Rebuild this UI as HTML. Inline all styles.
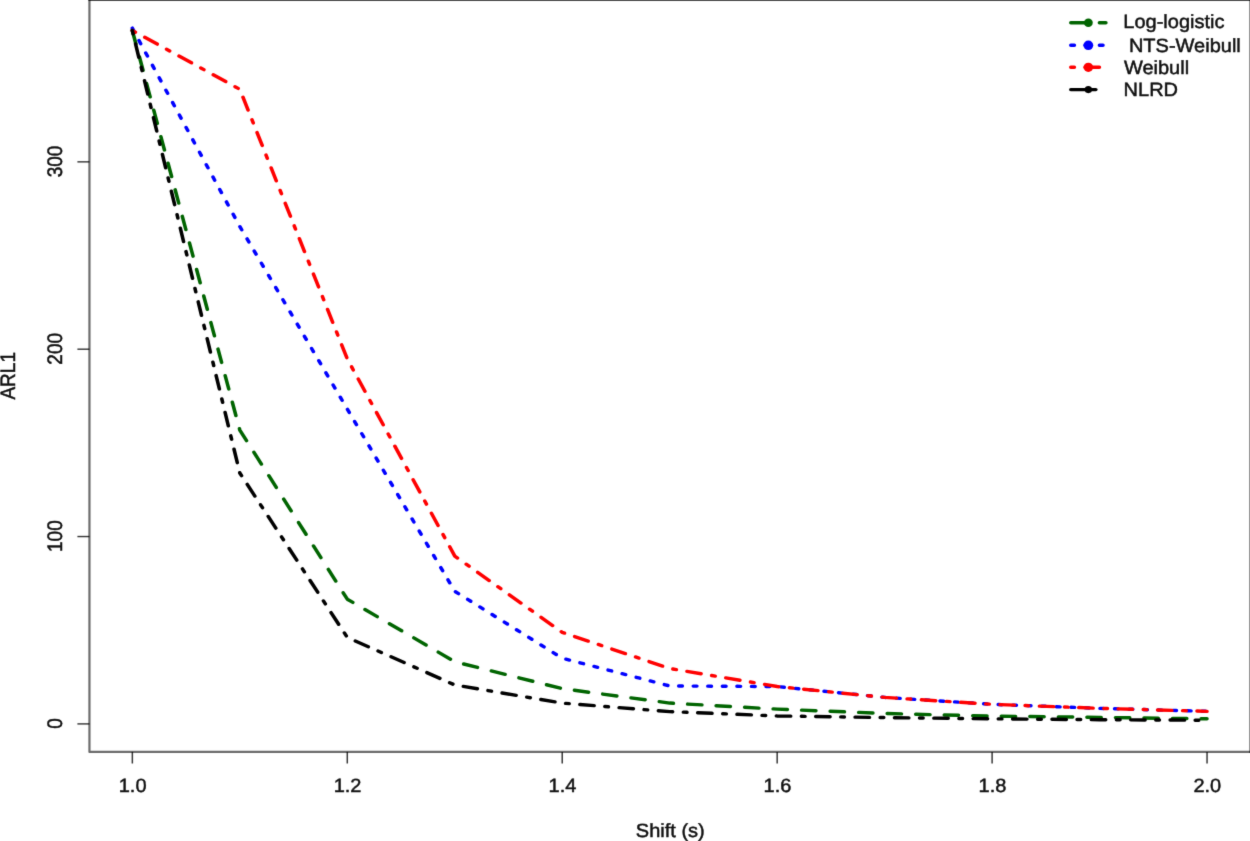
<!DOCTYPE html>
<html lang="en">
<head>
<meta charset="utf-8">
<title>ARL1 vs Shift</title>
<style>
html,body{margin:0;padding:0;background:#fff;}
body{width:1250px;height:841px;overflow:hidden;}
svg{display:block;}
text{font-family:"Liberation Sans",sans-serif;font-size:20px;fill:#111;stroke:#111;stroke-width:0.5px;text-rendering:geometricPrecision;}
</style>
</head>
<body>
<svg width="1250" height="841" viewBox="0 0 1250 841">
<defs><filter id="soft" x="-8" y="-8" width="1266" height="857" filterUnits="userSpaceOnUse" color-interpolation-filters="sRGB"><feConvolveMatrix order="3" kernelMatrix="0.01134 0.08382 0.01134 0.08382 0.61935 0.08382 0.01134 0.08382 0.01134" divisor="1" edgeMode="duplicate" preserveAlpha="true"/></filter></defs>
<g filter="url(#soft)">
<rect x="-8" y="-8" width="1266" height="857" fill="#ffffff"/>
<g transform="scale(1,0.961)">
<g fill="none" stroke-width="3.55" stroke-linecap="round" stroke-linejoin="round">
<polyline points="132.3,31.7 239.8,447.5 347.3,623.5 454.8,688.6 562.2,716.6 669.7,731.6 777.2,737.9 884.6,742.4 992.1,745.2 1099.6,746.5 1207.0,748.0" stroke="#006400" stroke-dasharray="14.27 14.27"/>
<polyline points="132.3,29.3 239.8,235.7 347.3,425.7 454.8,615.3 562.2,684.9 669.7,713.8 777.2,714.4 884.6,725.7 992.1,732.9 1099.6,737.1 1207.0,740.2" stroke="#0000ff" stroke-dasharray="3.64 10.92"/>
<polyline points="132.3,31.7 239.8,92.9 347.3,373.5 454.8,578.7 562.2,658.0 669.7,695.6 777.2,714.4 884.6,725.7 992.1,732.9 1099.6,737.1 1207.0,740.2" stroke="#ff0000" stroke-dasharray="3.58 10.75 14.33 10.75"/>
<polyline points="132.3,31.7 239.8,492.2 347.3,663.3 454.8,712.8 562.2,731.6 669.7,740.5 777.2,745.0 884.6,746.7 992.1,748.0 1099.6,748.9 1207.0,749.5" stroke="#000000" stroke-dasharray="3.58 10.74 14.32 10.74"/>
</g>
<path d="M89.45,-2.08 L89.45,782.41 L1252.00,782.41" fill="none" stroke="#000" stroke-opacity="0.58" stroke-width="2.2" stroke-linejoin="round"/>
<g stroke="#000" stroke-opacity="0.78" stroke-width="1.5" stroke-linecap="butt">
<line x1="132.35" y1="782.41" x2="132.35" y2="794.48"/>
<line x1="347.29" y1="782.41" x2="347.29" y2="794.48"/>
<line x1="562.23" y1="782.41" x2="562.23" y2="794.48"/>
<line x1="777.17" y1="782.41" x2="777.17" y2="794.48"/>
<line x1="992.11" y1="782.41" x2="992.11" y2="794.48"/>
<line x1="1207.05" y1="782.41" x2="1207.05" y2="794.48"/>
<line x1="77.40" y1="753.28" x2="89.45" y2="753.28"/>
<line x1="77.40" y1="558.32" x2="89.45" y2="558.32"/>
<line x1="77.40" y1="363.37" x2="89.45" y2="363.37"/>
<line x1="77.40" y1="168.42" x2="89.45" y2="168.42"/>
</g>
<g fill="none" stroke-width="3.55" stroke-linecap="round">
<line x1="1070.80" y1="23.62" x2="1105.90" y2="23.62" stroke="#006400" stroke-dasharray="14.30 14.30"/>
<line x1="1070.80" y1="47.14" x2="1105.90" y2="47.14" stroke="#0000ff" stroke-dasharray="3.58 10.73"/>
<line x1="1070.80" y1="70.03" x2="1105.90" y2="70.03" stroke="#ff0000" stroke-dasharray="3.58 10.73 14.30 10.73"/>
<line x1="1070.80" y1="93.24" x2="1105.90" y2="93.24" stroke="#000000" stroke-dasharray="25.03 10.73"/>
</g>
<circle cx="1088.35" cy="23.62" r="4.40" fill="#006400"/>
<circle cx="1088.35" cy="47.14" r="4.90" fill="#0000ff"/>
<circle cx="1088.35" cy="70.03" r="4.80" fill="#ff0000"/>
<circle cx="1088.35" cy="93.24" r="3.70" fill="#000000"/>
</g>
<line x1="88.4" y1="0" x2="1254" y2="0" stroke="#000" stroke-opacity="0.72" stroke-width="2"/>
<line x1="1250" y1="0" x2="1250" y2="752.9" stroke="#000" stroke-opacity="0.415" stroke-width="2"/>
<text transform="translate(132.65,792.30) scale(1,0.958)" text-anchor="middle">1.0</text>
<text transform="translate(347.59,792.30) scale(1,0.958)" text-anchor="middle">1.2</text>
<text transform="translate(562.53,792.30) scale(1,0.958)" text-anchor="middle">1.4</text>
<text transform="translate(777.47,792.30) scale(1,0.958)" text-anchor="middle">1.6</text>
<text transform="translate(992.41,792.30) scale(1,0.958)" text-anchor="middle">1.8</text>
<text transform="translate(1207.35,792.30) scale(1,0.958)" text-anchor="middle">2.0</text>
<text transform="translate(62.2,723.50) scale(1.05,0.95) rotate(-90)" text-anchor="middle">0</text>
<text transform="translate(62.2,536.15) scale(1.05,0.95) rotate(-90)" text-anchor="middle">100</text>
<text transform="translate(62.2,348.80) scale(1.05,0.95) rotate(-90)" text-anchor="middle">200</text>
<text transform="translate(62.2,161.45) scale(1.05,0.95) rotate(-90)" text-anchor="middle">300</text>
<text transform="translate(670.3,836.8) scale(1,0.958)" text-anchor="middle">Shift (s)</text>
<text transform="translate(15.1,375.8) scale(1.05,0.95) rotate(-90)" text-anchor="middle">ARL1</text>
<text transform="translate(1123.30,27.90) scale(1,0.958)">Log-logistic</text>
<text transform="translate(1128.90,52.00) scale(1,0.958)">NTS-Weibull</text>
<text transform="translate(1123.90,74.00) scale(1,0.958)">Weibull</text>
<text transform="translate(1123.60,96.40) scale(1,0.958)">NLRD</text>
</g>
</svg>
</body>
</html>
